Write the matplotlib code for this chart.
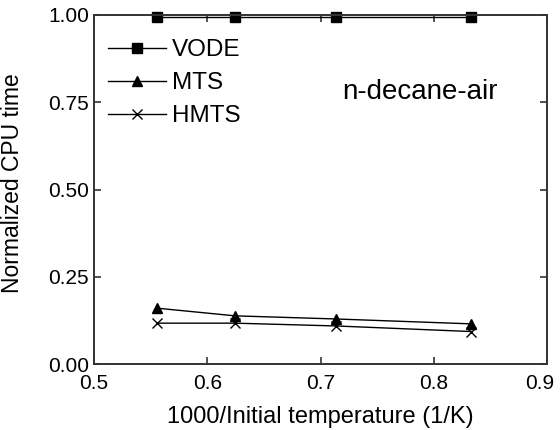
import matplotlib
matplotlib.use("Agg")
import matplotlib.pyplot as plt
from matplotlib.transforms import ScaledTranslation

plt.rcParams['font.family'] = ['Liberation Sans', 'DejaVu Sans']

x = [0.5555, 0.6245, 0.7137, 0.8332]
vode = [0.995, 0.995, 0.995, 0.995]
mts = [0.160, 0.138, 0.129, 0.115]
hmts = [0.117, 0.117, 0.109, 0.093]

fig = plt.figure(figsize=(5.6, 4.3), dpi=100)
ax = fig.add_axes([94 / 560, 1 - 364 / 430, 453 / 560, 349 / 430])

ax.plot(x, vode, color='black', lw=1, marker='s', ms=6.8, label='VODE', clip_on=False)
ax.plot(x, mts, color='black', lw=1, marker='^', ms=7, label='MTS')
ax.plot(x, hmts, color='black', lw=1, marker='x', ms=6.5, mew=1, label='HMTS')

ax.set_xlim(0.5, 0.9)
ax.set_ylim(0.0, 1.0)
ax.set_xticks([0.5, 0.6, 0.7, 0.8, 0.9])
ax.set_yticks([0.0, 0.25, 0.5, 0.75, 1.0])
ax.set_yticklabels(['0.00', '0.25', '0.50', '0.75', '1.00'])
ax.tick_params(direction='in', top=True, right=True, length=5, labelsize=15,
               width=1.2, color='#333333')
ax.tick_params(axis='x', pad=7.5)
ax.tick_params(axis='y', pad=3.5)
for s in ax.spines.values():
    s.set_linewidth(1.4)
    s.set_color('#333333')

# last x tick label sits a bit left in the original
lab = ax.get_xticklabels()[-1]
lab.set_transform(lab.get_transform() + ScaledTranslation(-5 / 72, 0, fig.dpi_scale_trans))

ax.set_xlabel('1000/Initial temperature (1/K)', fontsize=17, labelpad=9)
ax.set_ylabel('Normalized CPU time', fontsize=16.5)
ax.yaxis.set_label_coords(-0.155, 0.519)

ax.text(0.7195, 0.78, 'n-decane-air', fontsize=20, va='center', ha='left')

ax.legend(loc='upper left', frameon=False, fontsize=17.5, handlelength=2.4,
          borderaxespad=0.0, labelspacing=0.45, handletextpad=0.25,
          borderpad=0.0, bbox_to_anchor=(0.03, 0.93))

fig.savefig('out.png', dpi=100)
